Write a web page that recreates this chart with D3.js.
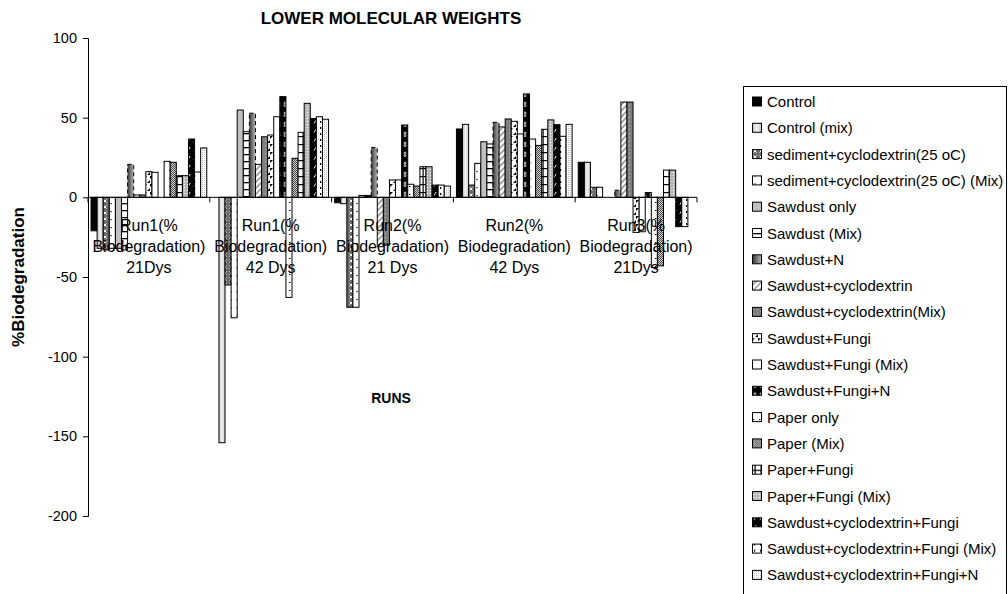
<!DOCTYPE html>
<html>
<head>
<meta charset="utf-8">
<script src="https://cdn.jsdelivr.net/npm/d3@7/dist/d3.min.js"></script>
<style>
  html, body { margin: 0; padding: 0; background: #fff; }
  svg { display: block; font-family: "Liberation Sans", Arial, sans-serif; }
</style>
</head>
<body>
<svg id="chart" width="1008" height="594"></svg>
<script>
// Category labels (one entry per line of each label)
const categories = ["Run1 21", "Run1 42", "Run2 21", "Run2 42", "Run3 21"];
const categoryLines = [
  ["Run1(%", "Biodegradation)", "21Dys"],
  ["Run1(%", "Biodegradation)", "42 Dys"],
  ["Run2(%", "Biodegradation)", "21 Dys"],
  ["Run2(%", "Biodegradation)", "42 Dys"],
  ["Run3(%", "Biodegradation)", "21Dys"]
];

const seriesNames = [
  "Control",
  "Control (mix)",
  "sediment+cyclodextrin(25 oC)",
  "sediment+cyclodextrin(25 oC) (Mix)",
  "Sawdust only",
  "Sawdust (Mix)",
  "Sawdust+N",
  "Sawdust+cyclodextrin",
  "Sawdust+cyclodextrin(Mix)",
  "Sawdust+Fungi",
  "Sawdust+Fungi (Mix)",
  "Sawdust+Fungi+N",
  "Paper only",
  "Paper (Mix)",
  "Paper+Fungi",
  "Paper+Fungi (Mix)",
  "Sawdust+cyclodextrin+Fungi",
  "Sawdust+cyclodextrin+Fungi (Mix)",
  "Sawdust+cyclodextrin+Fungi+N"
];

// % biodegradation per series, one value per run
const control          = [-21, 0, -3.4, 42.9, 22];
const controlMix       = [-32, -154, -4, 45.8, 22];
const sedCyclo         = [-33, -55, -69, 7.7, 6.3];
const sedCycloMix      = [-32, -75.6, -69, 21.3, 6.3];
const sawdustOnly      = [-32, 54.8, 1.2, 34.9, 0];
const sawdustMix       = [-33, 41.2, 1.2, 33.5, 0];
const sawdustN         = [20.7, 52.8, 31.2, 47.1, 4.5];
const sawdustCyclo     = [1.5, 20.7, -31, 44.2, 59.8];
const sawdustCycloMix  = [1.5, 38, -30, 49.2, 59.8];
const sawdustFungi     = [16.1, 39.1, 10.9, 47.7, -22];
const sawdustFungiMix  = [15.7, 50.6, 10.9, 39.8, -21.6];
const sawdustFungiN    = [0, 63.2, 45.4, 64.9, 3];
const paperOnly        = [22.6, -62.8, 8.2, 36.6, -44];
const paperMix         = [22, 24.5, 7.1, 32.6, -43];
const paperFungi       = [13.6, 40.8, 19.2, 42.7, 17.1];
const paperFungiMix    = [13.6, 59, 19.2, 48.6, 17.1];
const sawCycFungi      = [36.6, 49.4, 7.7, 45.6, -18.4];
const sawCycFungiMix   = [15.9, 50.6, 7.7, 38.3, -18.4];
const sawCycFungiN     = [31, 49, 7.1, 45.8, 0];

const seriesValues = [
  control, controlMix, sedCyclo, sedCycloMix, sawdustOnly, sawdustMix,
  sawdustN, sawdustCyclo, sawdustCycloMix, sawdustFungi, sawdustFungiMix,
  sawdustFungiN, paperOnly, paperMix, paperFungi, paperFungiMix,
  sawCycFungi, sawCycFungiMix, sawCycFungiN
];

const yTicks = [100, 50, 0, -50, -100, -150, -200];

const svg = d3.select("#chart");
const defs = svg.append("defs");

// ---------- fill patterns ----------
function pattern(id, w, h, bg, draw) {
  const p = defs.append("pattern").attr("id", id)
    .attr("patternUnits", "userSpaceOnUse").attr("width", w).attr("height", h);
  p.append("rect").attr("width", w).attr("height", h).attr("fill", bg);
  draw(p);
}
function gradient(id, stops) {
  const g = defs.append("linearGradient").attr("id", id)
    .attr("x1", "0").attr("y1", "0").attr("x2", "1").attr("y2", "0");
  stops.forEach(([o, c]) => g.append("stop").attr("offset", o).attr("stop-color", c));
}

gradient("g1", [[0, "#c4c4c4"], [0.5, "#f2f2f2"], [1, "#c4c4c4"]]);
pattern("p2", 6, 6, "#6a6a6a", p => p.append("path")
  .attr("d", "M1.5,1.5L4.5,4.5M4.5,1.5L1.5,4.5").attr("stroke", "#fff").attr("stroke-width", 1));
pattern("p3", 6, 8, "#fff", p => p.append("rect")
  .attr("x", 2.5).attr("y", 3).attr("width", 1.2).attr("height", 1.2).attr("fill", "#000"));
pattern("p5", 6, 7, "#fff", p => p.append("rect")
  .attr("x", 0).attr("y", 0).attr("width", 6).attr("height", 1.3).attr("fill", "#000"));
gradient("g6", [[0, "#3a3a3a"], [1, "#b4b4b4"]]);
pattern("p7", 6, 6, "#fff", p => p.append("path")
  .attr("d", "M-1,7L7,-1M-1,1L1,-1M5,7L7,5").attr("stroke", "#9a9a9a").attr("stroke-width", 1.6));
pattern("p8", 4, 4, "#7e7e7e", p => p.append("rect")
  .attr("x", 1).attr("y", 1).attr("width", 1).attr("height", 1).attr("fill", "#b8b8b8"));
pattern("p9", 6, 8, "#fff", p => p.append("path")
  .attr("d", "M0,0L3,0L0,3ZM6,4L6,7L3,7Z").attr("fill", "#000"));
pattern("p11", 6, 10, "#000", p => {
  p.append("circle").attr("cx", 3).attr("cy", 3).attr("r", 1).attr("fill", "none").attr("stroke", "#fff").attr("stroke-width", 0.8);
  p.append("circle").attr("cx", 3).attr("cy", 5.6).attr("r", 1).attr("fill", "none").attr("stroke", "#fff").attr("stroke-width", 0.8);
});
pattern("p12", 6, 8, "#fff", p => p.append("rect")
  .attr("x", 1).attr("y", 2).attr("width", 1.5).attr("height", 1).attr("fill", "#000"));
pattern("p13", 2, 2, "#d0d0d0", p => {
  p.append("rect").attr("x", 0).attr("y", 0).attr("width", 1).attr("height", 1).attr("fill", "#4a4a4a");
  p.append("rect").attr("x", 1).attr("y", 1).attr("width", 1).attr("height", 1).attr("fill", "#4a4a4a");
});
pattern("p14", 6, 8, "#fff", p => {
  p.append("rect").attr("x", 0).attr("y", 0).attr("width", 6).attr("height", 1.2).attr("fill", "#000");
  p.append("rect").attr("x", 2.5).attr("y", 0).attr("width", 1.2).attr("height", 8).attr("fill", "#000");
});
pattern("p15", 3, 3, "#b8b8b8", p => p.append("rect")
  .attr("x", 1).attr("y", 1).attr("width", 1).attr("height", 1).attr("fill", "#fff"));
pattern("p16", 6, 9, "#000", p => p.append("path")
  .attr("d", "M2,6.5L4.2,3").attr("stroke", "#fff").attr("stroke-width", 1));
pattern("p17", 6, 6, "#fff", p => p.append("rect")
  .attr("x", 2).attr("y", 1).attr("width", 1.2).attr("height", 2).attr("fill", "#000"));
pattern("p18", 2, 2, "#fff", p => p.append("rect")
  .attr("x", 0).attr("y", 0).attr("width", 1).attr("height", 1).attr("fill", "#bdbdbd"));

const fills = [
  "#000", "url(#g1)", "url(#p2)", "url(#p3)", "#c0c0c0", "url(#p5)", "url(#g6)",
  "url(#p7)", "url(#p8)", "url(#p9)", "#fff", "url(#p11)", "url(#p12)",
  "url(#p13)", "url(#p14)", "url(#p15)", "url(#p16)", "url(#p17)", "url(#p18)"
];
const dashes = seriesNames.map((d, i) => i === 6 ? "4,3" : null);

// ---------- scales ----------
const plot = { left: 88, right: 697, top: 38, bottom: 516 };
const x0 = d3.scaleBand().domain(categories).range([plot.left, plot.right]).padding(0);
const x1 = d3.scaleBand().domain(d3.range(seriesNames.length))
  .range([0, x0.bandwidth()]).paddingInner(0).paddingOuter(0.5);
const y = d3.scaleLinear().domain([-200, 100]).range([plot.bottom, plot.top]);

// ---------- bars ----------
const barLayer = svg.append("g");
seriesValues.forEach((vals, s) => {
  barLayer.append("g").selectAll("rect")
    .data(vals.map((v, c) => ({ v, c })))
    .join("rect")
    .attr("x", d => x0(categories[d.c]) + x1(s))
    .attr("width", x1.bandwidth())
    .attr("y", d => y(Math.max(0, d.v)))
    .attr("height", d => Math.abs(y(d.v) - y(0)))
    .attr("fill", fills[s])
    .attr("stroke", "#000")
    .attr("stroke-width", 1)
    .attr("stroke-dasharray", dashes[s]);
});

// ---------- y axis ----------
const yAxis = d3.axisLeft(y).tickValues(yTicks).tickSize(5).tickPadding(6).tickFormat(d => String(d));
const yg = svg.append("g").attr("transform", `translate(${plot.left},0)`).call(yAxis);
yg.select(".domain").attr("stroke", "#000");
yg.selectAll("text").attr("font-size", 14.5).attr("fill", "#000")
  .attr("font-family", "Liberation Sans, Arial, sans-serif");

// ---------- category axis at zero ----------
const xg = svg.append("g").attr("transform", `translate(0,${y(0)})`);
xg.append("line").attr("x1", plot.left).attr("x2", plot.right).attr("stroke", "#000");
const bounds = categories.map(c => x0(c)).concat([plot.right]);
xg.selectAll("line.tick").data(bounds).join("line").attr("class", "tick")
  .attr("x1", d => d).attr("x2", d => d).attr("y1", 0).attr("y2", 5).attr("stroke", "#000");
const catText = xg.selectAll("text.cat").data(categoryLines).join("text").attr("class", "cat")
  .attr("x", (d, i) => x0(categories[i]) + x0.bandwidth() / 2)
  .attr("text-anchor", "middle").attr("font-size", 16).attr("fill", "#000");
catText.selectAll("tspan").data(d => d).join("tspan")
  .attr("x", function () { return d3.select(this.parentNode).attr("x"); })
  .attr("y", (d, i) => 34 + i * 20.7)
  .text(d => d);

// ---------- titles ----------
svg.append("text").attr("x", 391).attr("y", 24).attr("text-anchor", "middle")
  .attr("font-size", 17).attr("font-weight", "bold").text("LOWER MOLECULAR WEIGHTS");
svg.append("text").attr("x", 391).attr("y", 403).attr("text-anchor", "middle")
  .attr("font-size", 14).attr("font-weight", "bold").text("RUNS");
svg.append("text").attr("transform", "translate(24,277) rotate(-90)").attr("text-anchor", "middle")
  .attr("font-size", 17).attr("font-weight", "bold").text("%Biodegradation");

// ---------- legend ----------
const legend = svg.append("g");
legend.append("rect").attr("x", 743.5).attr("y", 86.5).attr("width", 263).attr("height", 520)
  .attr("fill", "#fff").attr("stroke", "#000");
const item = legend.selectAll("g.item").data(seriesNames).join("g").attr("class", "item")
  .attr("transform", (d, i) => `translate(752,${101.5 + i * 26.3})`);
item.append("rect").attr("x", 0.5).attr("y", -4.5).attr("width", 9).attr("height", 9)
  .attr("fill", (d, i) => fills[i]).attr("stroke", "#000");
item.append("text").attr("x", 15).attr("y", 5.5).attr("font-size", 15).text(d => d);
</script>
</body>
</html>
